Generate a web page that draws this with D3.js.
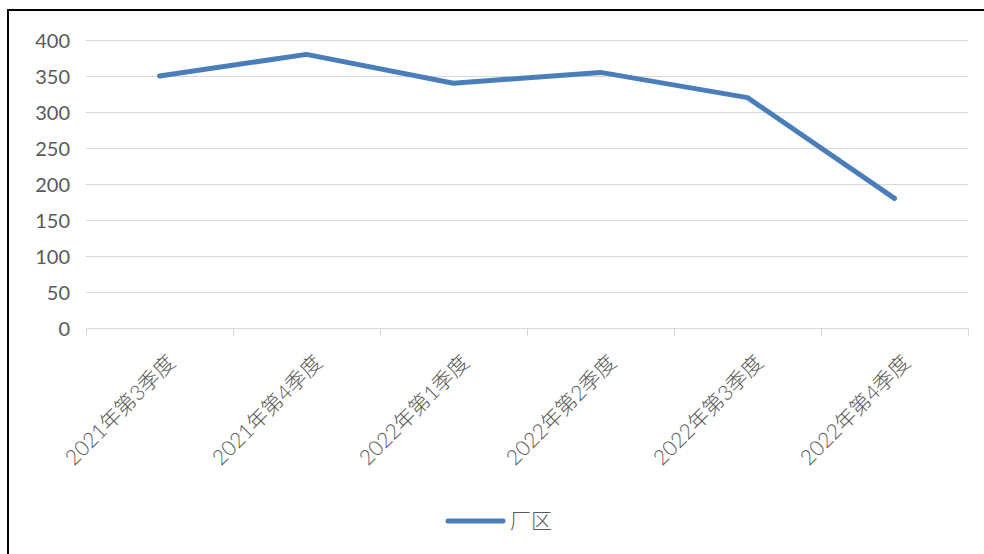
<!DOCTYPE html>
<html><head><meta charset="utf-8">
<script src="https://cdn.jsdelivr.net/npm/d3@7/dist/d3.min.js"></script>
<style>
html,body{margin:0;padding:0;background:#fff;}
svg{display:block;font-family:Lato,"Noto Sans CJK SC",sans-serif;}
</style></head><body>
<svg id="c" width="984" height="554"></svg>
<script>
const categories = ["2021年第3季度","2021年第4季度","2022年第1季度","2022年第2季度","2022年第3季度","2022年第4季度"];
const seriesName = "厂区";
const values = [350, 380, 340, 355, 320, 180];
const yTicks = [0, 50, 100, 150, 200, 250, 300, 350, 400];

const svg = d3.select("#c");
const mLeft = 86, mRight = 968, mTop = 40, mBottom = 328;
const x = d3.scaleBand().domain(categories).range([mLeft, mRight]);
const y = d3.scaleLinear().domain([0, 400]).range([mBottom, mTop]);
const textColor = "#595959", gridColor = "#d9d9d9", lineColor = "#4a7ebb";

// border
svg.append("path").attr("d", "M8,554 V10 H984").attr("fill", "none").attr("stroke", "#000").attr("stroke-width", 2);

// gridlines
svg.append("g").selectAll("line").data(yTicks.filter(d => d > 0)).join("line")
  .attr("x1", mLeft).attr("x2", mRight).attr("y1", d => Math.round(y(d)) + 0.5).attr("y2", d => Math.round(y(d)) + 0.5)
  .attr("stroke", gridColor).attr("stroke-width", 1);

// y axis labels
const yAxis = d3.axisLeft(y).tickValues(yTicks).tickSize(0).tickPadding(0);
const gy = svg.append("g").attr("transform", `translate(70,0)`).call(yAxis);
gy.select(".domain").remove();
gy.selectAll("text").attr("fill", textColor).style("font-size", "20px").style("font-family", "Lato,'Noto Sans CJK SC',sans-serif").attr("dy", "0.35em");

// x axis
const gx = svg.append("g").attr("transform", `translate(0,${mBottom + 0.5})`);
gx.append("line").attr("x1", mLeft).attr("x2", mRight).attr("stroke", gridColor).attr("stroke-width", 1);
const bounds = categories.map(c => x(c)).concat([mRight]);
gx.selectAll("line.tick").data(bounds).join("line").attr("class", "tick")
  .attr("x1", d => Math.round(d) + 0.5).attr("x2", d => Math.round(d) + 0.5).attr("y1", 0).attr("y2", 8)
  .attr("stroke", gridColor).attr("stroke-width", 1);
svg.append("g").selectAll("text").data(categories).join("text")
  .attr("transform", d => `translate(${x(d) + x.bandwidth() / 2 + 17},364) rotate(-45)`)
  .attr("text-anchor", "end").attr("fill", textColor).style("font-size", "21px").style("font-weight", 300)
  .text(d => d);

// line
const line = d3.line().x((d, i) => x(categories[i]) + x.bandwidth() / 2).y(d => y(d));
svg.append("path").datum(values).attr("d", line).attr("fill", "none")
  .attr("stroke", lineColor).attr("stroke-width", 5).attr("stroke-linejoin", "round").attr("stroke-linecap", "round");

// legend
const lg = svg.append("g");
lg.append("line").attr("x1", 448).attr("x2", 503).attr("y1", 521).attr("y2", 521)
  .attr("stroke", lineColor).attr("stroke-width", 5).attr("stroke-linecap", "round");
lg.append("text").attr("x", 510).attr("y", 521).attr("dy", "0.35em").attr("fill", textColor).style("font-size", "21px").style("font-weight", 300).text(seriesName);
</script></body></html>
